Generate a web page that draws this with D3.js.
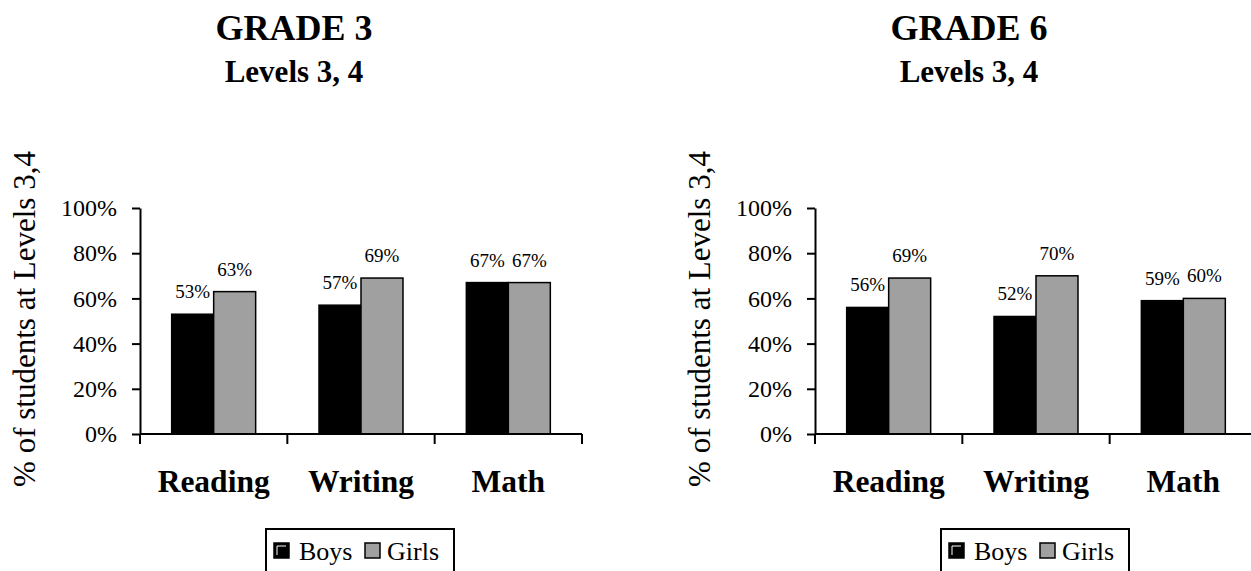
<!DOCTYPE html>
<html>
<head>
<meta charset="utf-8">
<script src="https://cdn.jsdelivr.net/npm/d3@7/dist/d3.min.js"></script>
<style>
  html, body { margin: 0; padding: 0; background: #fff; }
  svg { display: block; }
</style>
</head>
<body>
<svg id="chart" width="1251" height="571"></svg>
<script>
// Share of students at Levels 3 and 4, by subject and gender
const subjects = ["Reading", "Writing", "Math"];
const seriesNames = ["Boys", "Girls"];
const grade3Boys = [53, 57, 67];
const grade3Girls = [63, 69, 67];
const grade6Boys = [56, 52, 59];
const grade6Girls = [69, 70, 60];
const yTicks = [0, 20, 40, 60, 80, 100];
const panelTitles = ["GRADE 3", "GRADE 6"];
const panelSubtitle = "Levels 3, 4";
const yAxisTitle = "% of students at Levels 3,4";

const seriesColors = { Boys: "#000000", Girls: "#a0a0a0" };
const SERIF = "'Liberation Serif', 'Times New Roman', Tinos, serif";

const panels = [
  { title: panelTitles[0], boys: grade3Boys, girls: grade3Girls, left: 140 },
  { title: panelTitles[1], boys: grade6Boys, girls: grade6Girls, left: 815 }
];

const svg = d3.select("#chart").attr("font-family", SERIF);
const plotTop = 208, plotBottom = 434, plotWidth = 442;

const y = d3.scaleLinear().domain([0, 100]).range([plotBottom, plotTop]);

function txt(sel) {
  return sel.attr("font-family", SERIF).attr("fill", "#000");
}

panels.forEach(p => {
  const g = svg.append("g").attr("transform", `translate(${p.left},0)`);

  const x = d3.scaleBand().domain(subjects).range([0, plotWidth])
    .paddingInner(0.43).paddingOuter(0.215);
  const xs = d3.scaleBand().domain(seriesNames).range([0, x.bandwidth()]);

  // titles
  txt(g.append("text")).attr("x", 154).attr("y", 40).attr("text-anchor", "middle")
    .attr("font-size", 36).attr("font-weight", "bold").text(p.title);
  txt(g.append("text")).attr("x", 154).attr("y", 82).attr("text-anchor", "middle")
    .attr("font-size", 31).attr("font-weight", "bold").text(panelSubtitle);

  // y axis title
  txt(g.append("text"))
    .attr("transform", `translate(-105,${(148 + 490) / 2}) rotate(-90)`)
    .attr("text-anchor", "middle")
    .attr("font-size", 31)
    .text(yAxisTitle);

  // bars
  const rows = subjects.map((s, i) => ({ subject: s, values: [
    { name: "Boys", value: p.boys[i] },
    { name: "Girls", value: p.girls[i] }
  ]}));

  const grp = g.selectAll(".grp").data(rows).enter().append("g")
    .attr("transform", d => `translate(${x(d.subject)},0)`);

  grp.selectAll("rect").data(d => d.values).enter().append("rect")
    .attr("x", d => xs(d.name))
    .attr("y", d => y(d.value))
    .attr("width", xs.bandwidth())
    .attr("height", d => y(0) - y(d.value))
    .attr("fill", d => seriesColors[d.name])
    .attr("stroke", "#000").attr("stroke-width", 1.5);

  txt(grp.selectAll("text.val").data(d => d.values).enter().append("text"))
    .attr("class", "val")
    .attr("x", d => xs(d.name) + xs.bandwidth() / 2)
    .attr("y", d => y(d.value) - 16)
    .attr("text-anchor", "middle")
    .attr("font-size", 19)
    .text(d => d.value + "%");

  // y axis
  const yAxis = d3.axisLeft(y).tickValues(yTicks).tickSize(8).tickSizeOuter(0)
    .tickPadding(15).tickFormat(d => d + "%");
  const ya = g.append("g").call(yAxis).attr("font-family", SERIF).attr("font-size", 24);
  ya.select(".domain").attr("stroke", "#000").attr("stroke-width", 2);
  ya.selectAll(".tick line").attr("stroke", "#000").attr("stroke-width", 2);
  ya.selectAll(".tick text").attr("fill", "#000");

  // x axis line with boundary ticks between categories
  const step = x.step();
  const bounds = d3.range(subjects.length + 1).map(i => i * step);
  g.append("line").attr("x1", 0).attr("x2", plotWidth)
    .attr("y1", y(0)).attr("y2", y(0))
    .attr("stroke", "#000").attr("stroke-width", 2);
  g.selectAll(".btick").data(bounds).enter().append("line")
    .attr("x1", d => d).attr("x2", d => d)
    .attr("y1", y(0)).attr("y2", y(0) + 10)
    .attr("stroke", "#000").attr("stroke-width", 2);

  // category labels
  txt(g.selectAll(".cat").data(subjects).enter().append("text"))
    .attr("x", d => x(d) + x.bandwidth() / 2)
    .attr("y", 492)
    .attr("text-anchor", "middle")
    .attr("font-size", 31.5).attr("font-weight", "bold")
    .text(d => d);

  // legend
  const lg = g.append("g").attr("transform", "translate(126,529)");
  lg.append("rect").attr("x", 0).attr("y", 0).attr("width", 188).attr("height", 60)
    .attr("fill", "#fff").attr("stroke", "#000").attr("stroke-width", 2);
  const items = [{ name: "Boys", sx: 8, tx: 33 }, { name: "Girls", sx: 99, tx: 121 }];
  items.forEach(it => {
    lg.append("rect").attr("x", it.sx).attr("y", 14).attr("width", 15).attr("height", 15)
      .attr("fill", seriesColors[it.name]).attr("stroke", "#000").attr("stroke-width", 1.5);
    if (it.name === "Boys") {
      lg.append("path").attr("d", `M${it.sx + 3},${14 + 12} V${14 + 3} H${it.sx + 12}`)
        .attr("fill", "none").attr("stroke", "#fff").attr("stroke-width", 1);
    }
    txt(lg.append("text")).attr("x", it.tx).attr("y", 31)
      .attr("font-size", 26).text(it.name);
  });
});
</script>
</body>
</html>
